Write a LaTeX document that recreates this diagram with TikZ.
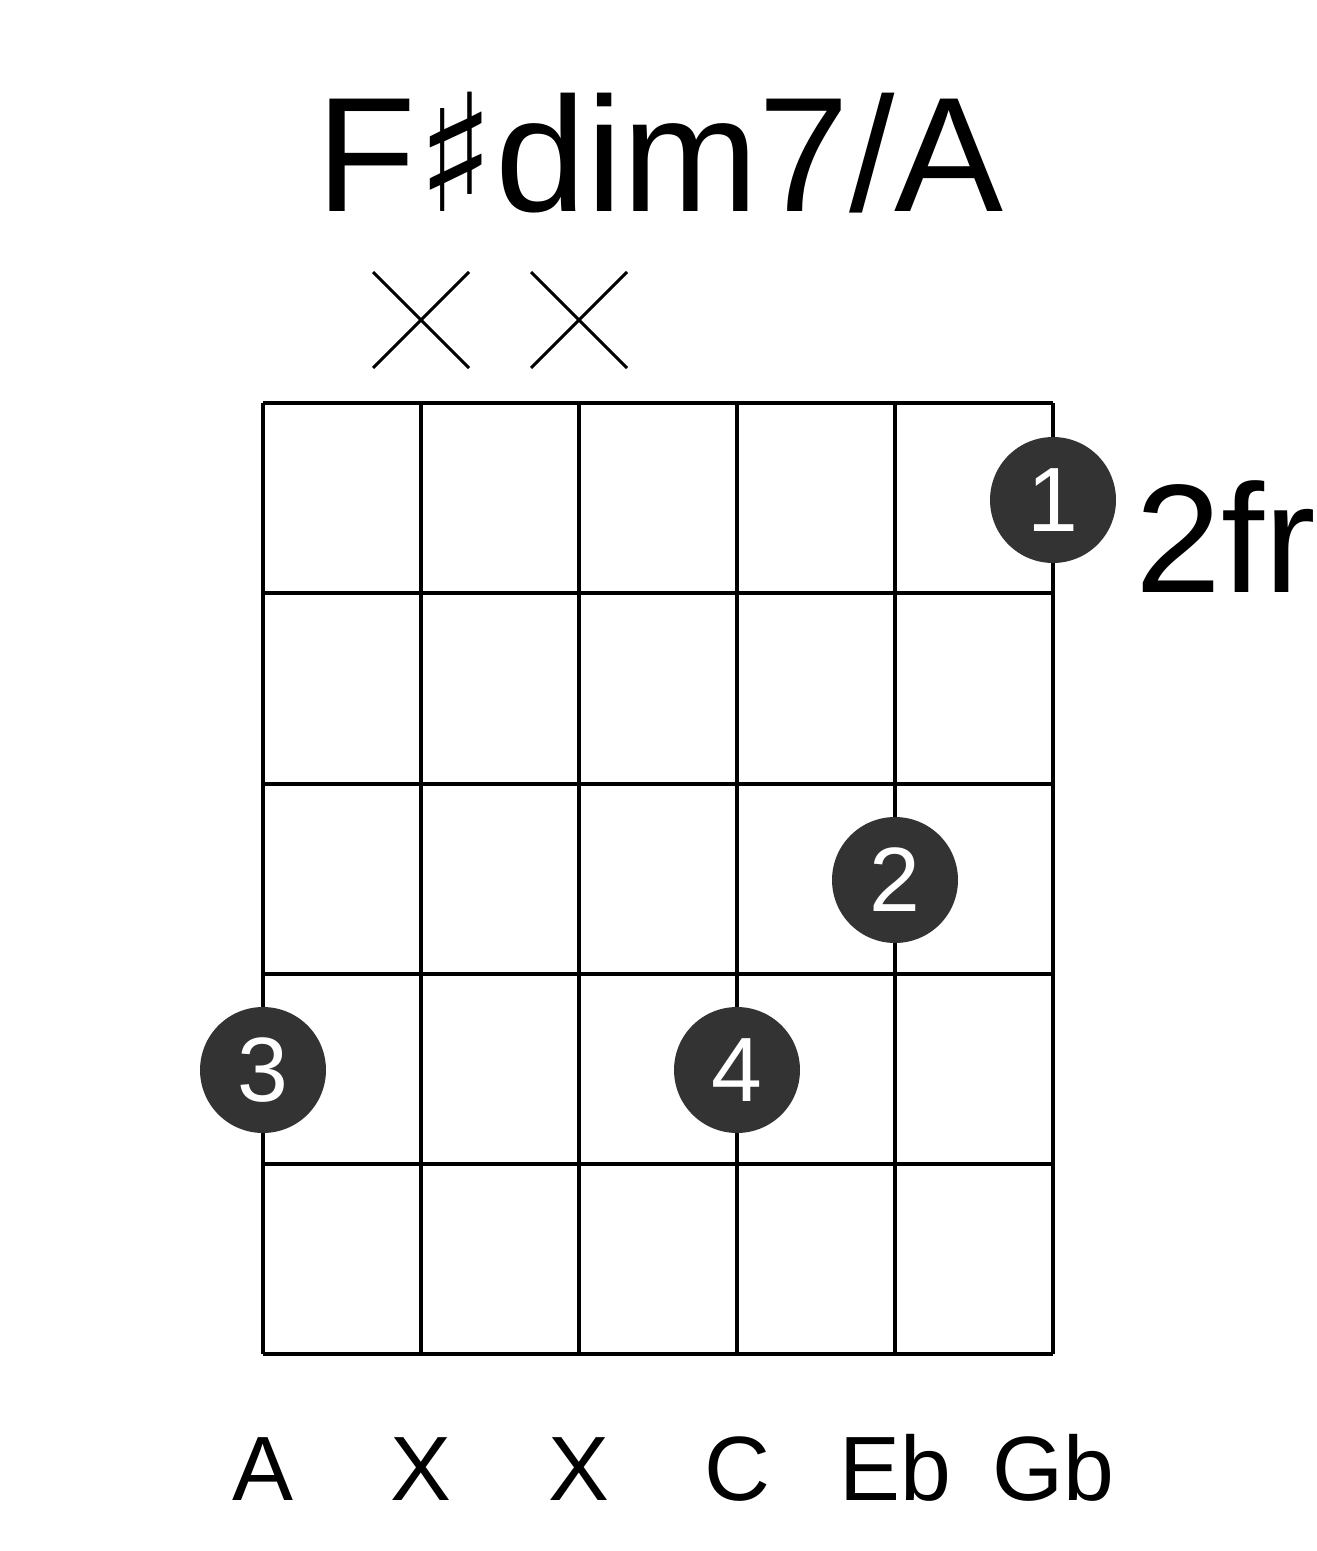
\documentclass[tikz,border=0pt]{standalone}
\usepackage{fontspec}
\setmainfont{Liberation Sans}
\newfontfamily\symfont{DejaVu Sans}
\usetikzlibrary{positioning}

\begin{document}
\begin{tikzpicture}[
    x=0.02cm, y=-0.02cm,
    gridline/.style={line width=2.3pt, black},
    mute/.style={line width=1.7pt, black},
    finger/.style={circle, fill=black!80, minimum size=2.52cm, inner sep=0pt, text=white, font=\fontsize{52}{52}\selectfont},
    strlabel/.style={anchor=base, font=\fontsize{52}{52}\selectfont}
]
\useasboundingbox (0,0) rectangle (1317,1551);

% Title
\node[anchor=base, font=\fontsize{93}{93}\selectfont] (title) at (660,212) {F{\symfont ♯}dim7/A};

% Muted strings
\foreach \sx in {421,579} {
  \draw[mute] (\sx-48,272) -- (\sx+48,368);
  \draw[mute] (\sx-48,368) -- (\sx+48,272);
}

% Grid
\foreach \sx in {263,421,579,737,895,1053}
  \draw[gridline] (\sx,403) -- (\sx,1354);
\foreach \fy in {403,593,784,974,1164,1354}
  \draw[gridline] (263,\fy) -- (1053,\fy);

% Fingers
\node[finger] (f1) at (1053,500) {1};
\node[finger] (f2) at (895,880) {2};
\node[finger] (f3) at (263,1070) {3};
\node[finger] (f4) at (737,1070) {4};

% Fret position
\node[anchor=base west, inner sep=0pt, font=\fontsize{88}{88}\selectfont] (fret) at (1135,592) {2fr};

% String notes
\foreach \sx/\nt/\nm in {263/A/sa,421/X/sb,579/X/sc,737/C/sd,895/Eb/se,1053/Gb/sf}
  \node[strlabel] (\nm) at (\sx,1500) {\nt};

\end{tikzpicture}
\end{document}
